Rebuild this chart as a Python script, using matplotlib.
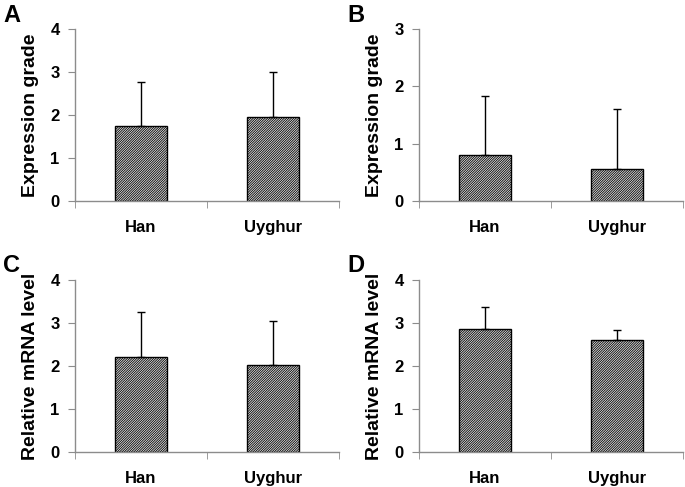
import matplotlib
matplotlib.use("Agg")
import matplotlib.pyplot as plt
import numpy as np

plt.rcParams['font.family'] = ['Liberation Sans', 'DejaVu Sans']
plt.rcParams['font.weight'] = 'bold'
plt.rcParams['hatch.linewidth'] = 0.6

categories = ["Han", "Uyghur"]
panel_letters = ["A", "B", "C", "D"]
ylabels = ["Expression grade", "Expression grade", "Relative mRNA level", "Relative mRNA level"]
ymaxes = [4, 3, 4, 4]
means_A = [1.74, 1.96]
err_A = [1.02, 1.04]
means_B = [0.80, 0.55]
err_B = [1.03, 1.05]
means_C = [2.20, 2.03]
err_C = [1.05, 1.02]
means_D = [2.87, 2.60]
err_D = [0.51, 0.23]
means = [means_A, means_B, means_C, means_D]
errs = [err_A, err_B, err_C, err_D]

fig = plt.figure(figsize=(6.85, 4.87), dpi=100)
W, H = 685, 487
boxes = [(75, 29, 339, 201), (419, 29, 683, 201), (75, 280, 339, 452), (419, 280, 683, 452)]
gray = "#8c8c8c"
for i in range(4):
    x0, y0, x1, y1 = boxes[i]
    ax = fig.add_axes([x0 / W, 1 - y1 / H, (x1 - x0) / W, (y1 - y0) / H])
    x = np.arange(len(categories))
    ax.bar(x, means[i], width=0.4, color="#e6e6e6", edgecolor="black", hatch="/" * 14, linewidth=1.0, zorder=2)
    lower = np.zeros(len(categories))
    ax.errorbar(x, means[i], yerr=[lower, errs[i]], fmt="none", ecolor="black", elinewidth=1.0, capsize=3, capthick=1.0, zorder=3)
    ax.set_xlim(-0.5, 1.5)
    ax.set_ylim(0, ymaxes[i])
    ax.set_yticks(range(ymaxes[i] + 1))
    ax.set_xticks(x)
    ax.set_xticklabels(categories, fontsize=12, fontweight="bold")
    ax.set_xticks([-0.5, 0.5, 1.5], minor=True)
    ax.tick_params(axis="x", which="major", length=0, pad=14)
    ax.tick_params(axis="x", which="minor", length=5, color=gray, direction="out")
    ax.tick_params(axis="y", length=5, color=gray, direction="out", labelsize=12, pad=6)
    for lab in ax.get_yticklabels():
        lab.set_fontweight("bold")
    for s in ["top", "right"]:
        ax.spines[s].set_visible(False)
    for s in ["left", "bottom"]:
        ax.spines[s].set_color(gray)
        ax.spines[s].set_linewidth(1.0)
    ax.set_ylabel(ylabels[i], fontsize=14, fontweight="bold", labelpad=8)
    fig.text((x0 - 72) / W, 1 - (y0 - 14) / H, panel_letters[i], fontsize=17, fontweight="bold", va="center", ha="left")

fig.savefig("out.png", dpi=100)
